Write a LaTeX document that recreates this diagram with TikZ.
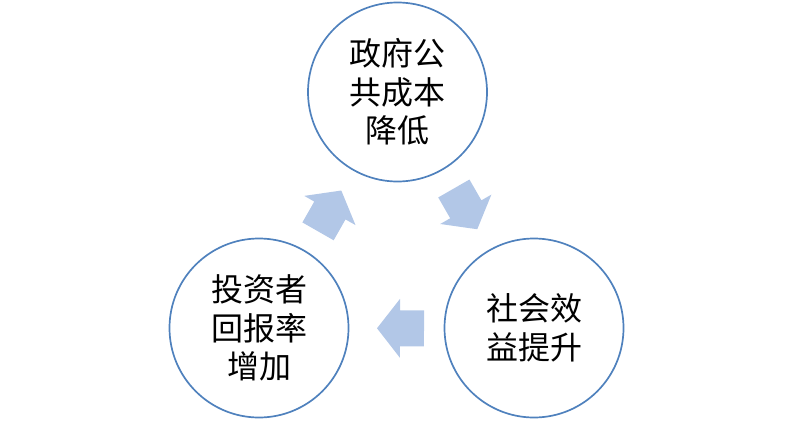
\documentclass[tikz,border=0pt]{standalone}
\usepackage{fontspec}
\newfontfamily\cjk{Noto Sans CJK SC}
\usetikzlibrary{calc}
\definecolor{ringblue}{RGB}{79,129,189}
\definecolor{arrowblue}{RGB}{178,199,231}
\tikzset{
  ring/.style={circle, draw=ringblue, line width=1.7pt, minimum size=179pt, inner sep=0pt,
               align=center, font=\cjk\fontsize{32}{38.5}\selectfont},
  arrowfill/.style={fill=arrowblue, draw=none}
}
% #1 = head-base centre, #2 = target node
\newcommand\blkarrow[2]{%
  \path ($(#1)!-24pt!(#2)$) coordinate (#1-tail)
        ($(#1)!23pt!(#2)$) coordinate (#1-tip);
  \fill[arrowfill] ($(#1-tail)!18pt!90:(#2)$) -- ($(#1)!18pt!90:(#2)$)
     -- ($(#1)!29.5pt!90:(#2)$) -- (#1-tip) -- ($(#1)!29.5pt!-90:(#2)$)
     -- ($(#1)!18pt!-90:(#2)$) -- ($(#1-tail)!18pt!-90:(#2)$) -- cycle;
}
\begin{document}
\begin{tikzpicture}[x=1pt,y=-1pt]
\useasboundingbox (0,0) rectangle (797,420);
\node[ring] (top) at (397.5,92) {政府公\\共成本\\降低};
\node[ring] (bl) at (259,328) {投资者\\回报率\\增加};
\node[ring] (br) at (534,328) {社会效\\益提升};
\coordinate (aL) at (329.9,210.5);
\coordinate (aR) at (465.8,209.3);
\coordinate (aB) at (400,328.3);
\blkarrow{aL}{top}
\blkarrow{aR}{br}
\blkarrow{aB}{bl}
\end{tikzpicture}
\end{document}
